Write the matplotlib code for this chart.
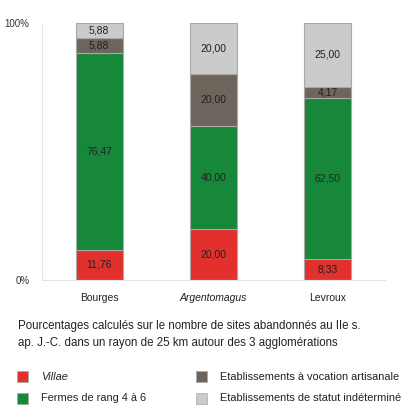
import numpy as np
import matplotlib.pyplot as plt

plt.rcParams['font.family'] = ['Liberation Sans', 'DejaVu Sans']

sites = ['Bourges', 'Argentomagus', 'Levroux']
villae = [11.76, 20.00, 8.33]
fermes = [76.47, 40.00, 62.50]
artisanat = [5.88, 20.00, 4.17]
indetermine = [5.88, 20.00, 25.00]

series = [
    ('Villae', villae, '#e2302c'),
    ('Fermes de rang 4 à 6', fermes, '#17883a'),
    ('Etablissements à vocation artisanale', artisanat, '#6d645b'),
    ('Etablissements de statut indéterminé', indetermine, '#cbcbcb'),
]

fig = plt.figure(figsize=(4.09, 4.07), dpi=100)
ax = fig.add_axes([0.103, 0.312, 0.838, 0.632])

x = np.arange(len(sites))
bottom = np.zeros(len(sites))
for name, vals, col in series:
    vals = np.array(vals)
    ax.bar(x, vals, 0.41, bottom=bottom, color=col, edgecolor='#a8a8a8', linewidth=0.8)
    for xi, b, v in zip(x, bottom, vals):
        ax.text(xi, b + v / 2, f'{v:.2f}'.replace('.', ','), ha='center', va='center',
                fontsize=7.5, color='#222222')
    bottom += vals

ax.set_xlim(-0.5, 2.5)
ax.set_ylim(0, 100)
ax.set_yticks([0, 100])
ax.set_yticklabels(['0%', '100%'], fontsize=7, color='#333333')
ax.set_xticks(x)
ax.set_xticklabels(sites, fontsize=7.5, color='#222222')
ax.get_xticklabels()[1].set_style('italic')
ax.tick_params(length=0, pad=9)
ax.tick_params(axis='y', pad=9)
for s in ['top', 'right']:
    ax.spines[s].set_visible(False)
for s in ['left', 'bottom']:
    ax.spines[s].set_color('#e4e4e4')
    ax.spines[s].set_linewidth(0.8)

fig.text(0.044, 0.178, 'Pourcentages calculés sur le nombre de sites abandonnés au IIe s.\n'
         'ap. J.-C. dans un rayon de 25 km autour des 3 agglomérations',
         fontsize=8.3, color='#222222', va='center', linespacing=1.47)

# legend drawn by hand as two columns
pos = [(0.042, 0.074), (0.042, 0.022), (0.479, 0.074), (0.479, 0.022)]
for (name, vals, col), (lx, ly) in zip(series, pos):
    fig.patches.append(plt.Rectangle((lx, ly - 0.0135), 0.027, 0.027, transform=fig.transFigure,
                                     facecolor=col, edgecolor='#a8a8a8', linewidth=0.5))
    fig.text(lx + 0.058, ly, name, fontsize=7.9, color='#222222', va='center',
             style='italic' if name == 'Villae' else 'normal')

fig.savefig('out.png', dpi=100)
